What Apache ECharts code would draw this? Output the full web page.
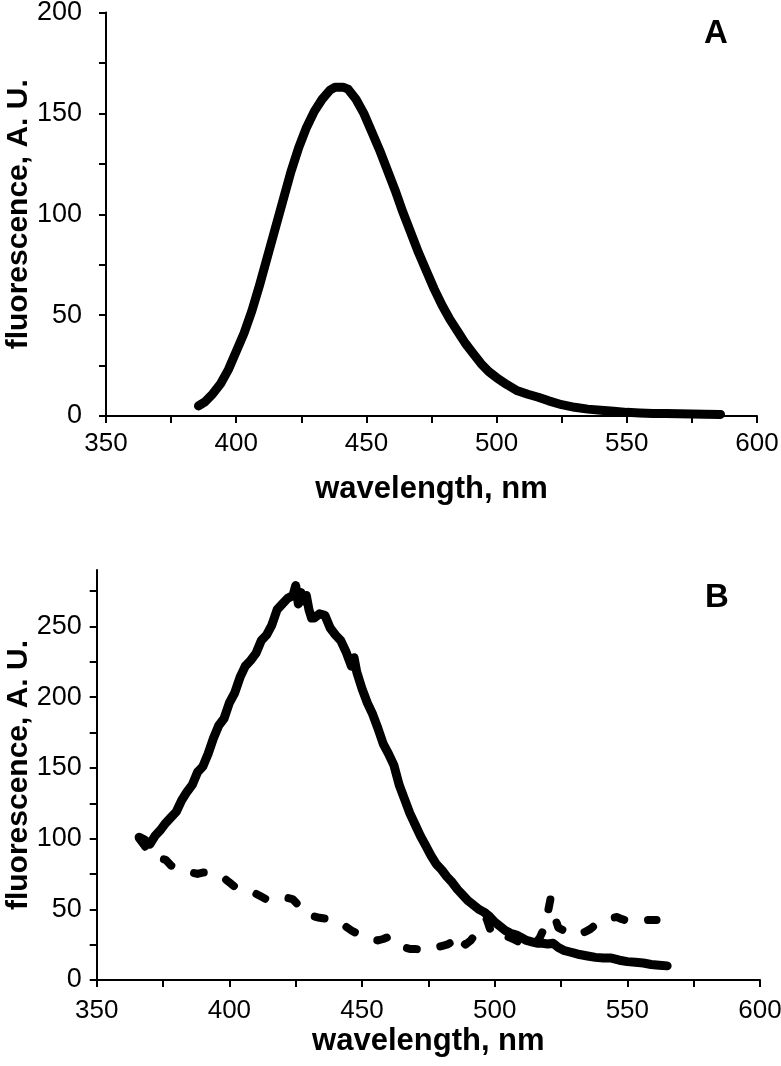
<!DOCTYPE html>
<html>
<head>
<meta charset="utf-8">
<script src="https://cdn.jsdelivr.net/npm/echarts@6/dist/echarts.min.js"></script>
<style>
html,body{margin:0;padding:0;background:#fff;}
#chart{width:781px;height:1066px;}
</style>
</head>
<body>
<div id="chart"></div>
<script>
// ---------- Data ----------
// Panel A
const wavelengthA = [385.5,388,391,394,397,400,403,406,409,412,415,418,421,424,427,430,433,436,438,441,443,446,449,452,455,458,461,464,467,470,473,476,479,482,485,488,491,494,497,500,504,508,512,516,520,525,530,535,540,545,550,555,560,565,570,575,580,586];
const fluorA      = [5,7,11,16,23,32,41,52,65,79,93,107,121,133,143,151,157,161.5,163,163,162,157,150,141,132,122,112,101,91,81,72,63,55,48,42,36,31,26,22,19,15.5,12.5,10.8,9.3,7.5,5.6,4.3,3.4,2.8,2.3,1.8,1.5,1.3,1.2,1.1,1.0,0.9,0.8];

// Panel B, solid curve
const wavelengthB1 = [366,368,370,372,374,376,378,380,382,384,386,388,390,392,394,396,398,400,402,404,406,408,410,412,414,416,418,420,422,424,425,426,427,428,429,430,431,432,434,436,438,440,442,444,446,447,448,450,452,454,456,458,460,462,464,466,468,470,472,474,476,478,480,482,484,486,488,490,492,494,496,498,500,502,504,506,508,510,512,514,516,518,520,522,524,526,528,530,532,535,538,541,544,547,550,553,556,559,562,565];
const fluorB1      = [101,99,96,102,106,111,115,119,127,133,138,147,151,160,171,180,185,196,203,214,222,226,231,240,244,251,262,266,270,272,279,266,274,268,272,262,256,256,259,258,249,244,240,232,222,228,218,206,196,188,178,167,160,152,138,128,118,110,102,95,88,82,78,73,69,64,60,56,53,50,48,45,41,38,35,33,32,30,28,27,26,26,25.5,26,23,21,20,19,18,17,16,15.5,15.5,14,13,12.5,12,11,10.5,10];

// Panel B, dashed curve
const wavelengthB2 = [366,368,370,372,374,376,378,380,382,384,386,388,390,392,394,396,398,400,402,404,406,408,410,412,414,416,418,420,422,424,426,428,430,432,434,436,438,440,442,444,446,448,450,452,454,456,458,460,462,464,466,468,470,472,474,476,478,480,482,484,485.5,487,489,491,493,495,497,499,501,503,505,507,509,511,513,515,517,519,521,522,524,526,528,530,532,534,536,538,540,542,544,546,548,550,552,554,556,558,561];
const fluorB2      = [100,95,89,88,86,85,81,79,78,77,76,75,76,76,75,74,72,69,66,65,64,62,61,59,57,56,57,57,58,57,53,47,46,45,44,43.5,43,42,39,37.6,35,33,31,29.5,28.5,28,29,30.5,27,24,23,22,22,21.5,21,22,23,24,25,27,32,28,25,28,33,38,43,32,33,31,30.5,29,27,24,23,25,30,38,57,48,37,35,33,32,32,34,36,39,40,42,44,44.5,43,42,42,42.5,42,42.5,42.5];

// Axis ticks / labels
const xTicks   = [350,375,400,425,450,475,500,525,550,575,600];
const xLabels  = [350,400,450,500,550,600];
const yTicksA  = [0,25,50,75,100,125,150,175,200];
const yLabelsA = [0,50,100,150,200];
const yTicksB  = [0,25,50,75,100,125,150,175,200,225,250,275];
const yLabelsB = [0,50,100,150,200,250];

const xTitle = 'wavelength, nm';
const yTitle = 'fluorescence, A. U.';
const panelA = 'A';
const panelB = 'B';

// ---------- Build ----------
const zip = (xs, ys) => xs.map((x, i) => [x, ys[i]]);
const FONT = '"Liberation Sans", Arial, Helvetica, sans-serif';
const axisLineStyle = {color: '#000', width: 2};

function xAxis(gridIndex, margin, nameGap) {
  return {
    type: 'value', gridIndex, min: 350, max: 600,
    name: xTitle, nameLocation: 'middle', nameGap, nameMoveOverlap: false,
    nameTextStyle: {fontFamily: FONT, fontSize: 31, fontWeight: 'bold', color: '#000'},
    axisLine: {show: true, onZero: false, lineStyle: axisLineStyle},
    axisTick: {show: true, length: 7, lineStyle: {color: '#000', width: 2}, customValues: xTicks},
    axisLabel: {fontFamily: FONT, fontSize: 26, color: '#000', margin, customValues: xLabels,
                hideOverlap: false, showMinLabel: true, showMaxLabel: true},
    splitLine: {show: false}
  };
}
function yAxis(gridIndex, max, ticks, labels, margin, nameGap) {
  return {
    type: 'value', gridIndex, min: 0, max,
    name: yTitle, nameLocation: 'middle', nameGap, nameRotate: 90, nameMoveOverlap: false,
    nameTextStyle: {fontFamily: FONT, fontSize: 30, fontWeight: 'bold', color: '#000'},
    axisLine: {show: true, lineStyle: axisLineStyle},
    axisTick: {show: true, length: 7, lineStyle: {color: '#000', width: 2}, customValues: ticks},
    axisLabel: {fontFamily: FONT, fontSize: 27, color: '#000', margin, customValues: labels,
                hideOverlap: false, showMinLabel: true, showMaxLabel: true},
    splitLine: {show: false}
  };
}

const chart = echarts.init(document.getElementById('chart'), null, {renderer: 'canvas'});
chart.setOption({
  backgroundColor: '#fff',
  animation: false,
  title: [
    {text: panelA, left: 704, top: 17, padding: 0,
     textStyle: {fontFamily: FONT, fontSize: 33, fontWeight: 'bold', color: '#000'}},
    {text: panelB, left: 705, top: 581, padding: 0,
     textStyle: {fontFamily: FONT, fontSize: 33, fontWeight: 'bold', color: '#000'}}
  ],
  grid: [
    {left: 106, right: 24, top: 12.5, height: 403.5, containLabel: false, outerBoundsMode: 'none'},
    {left: 96.7, right: 21, top: 570, height: 410, containLabel: false, outerBoundsMode: 'none'}
  ],
  xAxis: [xAxis(0, 15, 58), xAxis(1, 18, 46)],
  yAxis: [yAxis(0, 200, yTicksA, yLabelsA, 24, 72), yAxis(1, 290, yTicksB, yLabelsB, 15, 63)],
  series: [
    {type: 'line', xAxisIndex: 0, yAxisIndex: 0, data: zip(wavelengthA, fluorA),
     showSymbol: false, lineStyle: {color: '#000', width: 9, cap: 'round', join: 'round'}},
    {type: 'line', xAxisIndex: 1, yAxisIndex: 1, data: zip(wavelengthB1, fluorB1),
     showSymbol: false, lineStyle: {color: '#000', width: 9, cap: 'round', join: 'round'}},
    {type: 'line', xAxisIndex: 1, yAxisIndex: 1, data: zip(wavelengthB2, fluorB2),
     showSymbol: false, lineStyle: {color: '#000', width: 8, type: [10, 24], cap: 'round', join: 'round'}}
  ]
});
</script>
</body>
</html>
